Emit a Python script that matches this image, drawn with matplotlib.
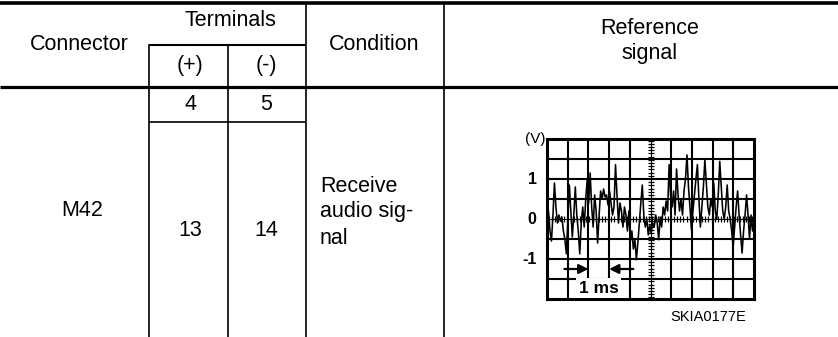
import numpy as np
import matplotlib
matplotlib.use("Agg")
import matplotlib.pyplot as plt

plt.rcParams['font.family'] = ['Liberation Sans', 'DejaVu Sans']

# ---------------- data ----------------
connector = "M42"
terminals_plus = ["4", "13"]
terminals_minus = ["5", "14"]
condition_lines = ["Receive", "audio sig-", "nal"]
header_cols = ["Connector", "Terminals", "Condition", "Reference\nsignal"]
sub_headers = ["(+)", "(-)"]
figure_code = "SKIA0177E"

scope_y_labels = ["1", "0", "-1"]
scope_y_values = [1, 0, -1]
scope_time_ms = 10          # ten 1 ms divisions
scope_volt_range = (-2, 2)
scale_label = "1 ms"

# signal in volts (14 samples per 1 ms division)
signal_volts = [
    -0.1, 0.2, -0.3, -0.55, 0.1, 0.9, 0.3, -0.1, 0.1, -0.05, 0.05, -0.3, -0.5, -0.87,
    0.0, 0.85, 0.2, -0.45, 0.1, 0.8, 0.1, -0.3, -0.87, -0.1, 0.3, -0.2, 0.5, 0.98,
    0.4, 1.15, 0.3, -0.2, 0.6, 0.2, -0.6, 0.1, 0.7, 0.5, 0.75, 0.55, 0.6, 0.35,
    0.7, 0.4, 0.1, 0.3, 1.36, 0.6, -0.1, 0.4, 0.2, -0.2, 0.3, 0.1, -0.3, 0.2,
    -0.55, -0.3, -0.75, -0.5, -1.02, -0.6, -0.1, 0.4, 0.85, 0.1, -0.2, 0.0, -0.4, -0.15,
    -0.35, -0.1, -0.2, 0.1, -0.1, -0.52, 0.05, -0.2, 0.3, 0.1, 0.45, 0.2, 1.36, 0.6,
    0.3, 0.7, 0.1, 1.25, 0.6, 0.2, 0.5, 0.1, 0.7, 1.0, 1.6, 0.8, 0.3, -0.27,
    0.2, 0.6, 1.0, 1.36, 0.5, -0.2, 0.3, 0.8, 1.48, 0.9, 0.3, 0.1, 0.5, 0.3,
    0.9, 0.2, 0.0, 0.6, 1.44, 0.8, 0.2, 0.0, 0.3, 0.85, 0.2, 0.0, -0.3, -0.7,
    -0.2, 0.3, 0.7, 0.1, -0.4, -0.85, -0.3, 0.1, 0.6, 0.1, -0.5, 0.1, -0.3, 0.0,
]

# ---------------- figure ----------------
W, H = 838, 337
fig = plt.figure(figsize=(W / 100, H / 100), dpi=100)
ax = fig.add_axes([0, 0, 1, 1])
ax.set_xlim(0, W)
ax.set_ylim(H, 0)
ax.axis('off')

k = 'black'
# table rules
ax.plot([0, W], [3, 3], color=k, lw=2.6, solid_capstyle='butt')
ax.plot([0, W], [87, 87], color=k, lw=2.3, solid_capstyle='butt')
ax.plot([148.5, 305.5], [44.5, 44.5], color=k, lw=1.5, solid_capstyle='butt')
ax.plot([148.5, 305.5], [122, 122], color=k, lw=1.2, solid_capstyle='butt')
ax.plot([148.5, 148.5], [44.5, H], color=k, lw=1.2)
ax.plot([228, 228], [44.5, H], color=k, lw=1.2)
ax.plot([305.5, 305.5], [3, H], color=k, lw=1.2)
ax.plot([444, 444], [3, H], color=k, lw=1.2)

fs = 15.5
ax.text(79, 45, header_cols[0], ha='center', va='center', fontsize=fs)
ax.text(230, 21, header_cols[1], ha='center', va='center', fontsize=fs)
ax.text(374.5, 45, header_cols[2], ha='center', va='center', fontsize=fs)
ax.text(650, 41, header_cols[3], ha='center', va='center', fontsize=fs, linespacing=1.25)
ax.text(190, 66, sub_headers[0], ha='center', va='center', fontsize=fs)
ax.text(266, 66, sub_headers[1], ha='center', va='center', fontsize=fs)

ax.text(190, 104, terminals_plus[0], ha='center', va='center', fontsize=fs)
ax.text(266, 104, terminals_minus[0], ha='center', va='center', fontsize=fs)
ax.text(190, 231, terminals_plus[1], ha='center', va='center', fontsize=fs)
ax.text(266, 231, terminals_minus[1], ha='center', va='center', fontsize=fs)
ax.text(82, 211, connector, ha='center', va='center', fontsize=fs)
for i, line in enumerate(condition_lines):
    ax.text(320, 186 + 26 * i, line, ha='left', va='center', fontsize=fs)
ax.text(708, 317, figure_code, ha='center', va='center', fontsize=10.5)

# ---------------- oscilloscope ----------------
x0, x1, y0, y1 = 547, 754, 139, 299
sc = fig.add_axes([x0 / W, (H - y1) / H, (x1 - x0) / W, (y1 - y0) / H])
sc.set_xlim(0, scope_time_ms)
sc.set_ylim(*scope_volt_range)
sc.set_xticks([])
sc.set_yticks([])
for s in sc.spines.values():
    s.set_linewidth(2.2)
    s.set_color(k)

for t in range(1, scope_time_ms):
    if t == scope_time_ms // 2:
        continue
    sc.axvline(t, color=k, lw=1.5, zorder=1)
for v in np.arange(-1.5, 2.0, 0.5):
    if abs(v) < 1e-9:
        continue
    sc.axhline(v, color=k, lw=1.5, zorder=1)

# dotted centre lines with small ticks
sc.axvline(scope_time_ms / 2, color=k, lw=0.8, zorder=1)
sc.plot(np.full(50, scope_time_ms / 2), np.linspace(-1.96, 1.96, 50), ls='none',
        marker='_', ms=5, mew=0.9, color=k, zorder=1)
sc.axhline(0, color=k, lw=0.8, zorder=1)
sc.plot(np.linspace(0.08, 9.92, 66), np.zeros(66), ls='none',
        marker='|', ms=4, mew=0.9, color=k, zorder=1)

t = np.linspace(0, scope_time_ms, len(signal_volts))
sc.plot(t, signal_volts, color=k, lw=1.15, zorder=3)

# axis labels
for lab, val in zip(scope_y_labels, scope_y_values):
    sc.text(-0.5, val, lab, ha='right', va='center', fontsize=11.5,
            fontweight='bold', clip_on=False)
sc.text(-0.05, 2.0, "(V)", ha='right', va='center', fontsize=11, clip_on=False)

# 1 ms scale arrows
sc.annotate('', xy=(2, -1.25), xytext=(0.84, -1.25),
            arrowprops=dict(arrowstyle='-|>', color=k, lw=1.6,
                            mutation_scale=14, shrinkA=0, shrinkB=0), zorder=4)
sc.annotate('', xy=(3, -1.25), xytext=(4.17, -1.25),
            arrowprops=dict(arrowstyle='-|>', color=k, lw=1.6,
                            mutation_scale=14, shrinkA=0, shrinkB=0), zorder=4)
sc.text(2.5, -1.73, scale_label, ha='center', va='center', fontsize=12.5,
        fontweight='bold', zorder=5,
        bbox=dict(boxstyle='square,pad=0.15', fc='white', ec='none'))

fig.savefig('out.png', dpi=100)
